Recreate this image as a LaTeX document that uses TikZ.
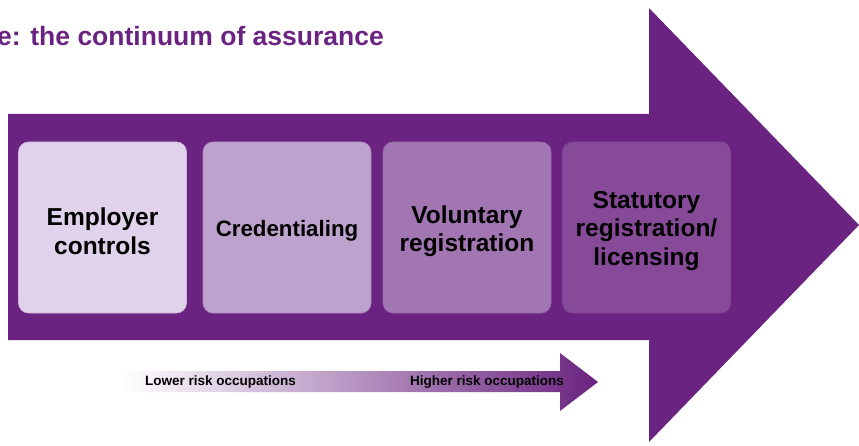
\documentclass[tikz,border=0pt]{standalone}
\usepackage{fontspec}
\setmainfont{Liberation Sans}
\definecolor{DarkPurple}{rgb}{0.416,0.137,0.502}
\definecolor{BoxA}{rgb}{0.875,0.824,0.918}
\definecolor{BoxB}{rgb}{0.741,0.635,0.804}
\definecolor{BoxC}{rgb}{0.631,0.463,0.698}
\definecolor{BoxD}{rgb}{0.529,0.290,0.600}

\begin{document}
\begin{tikzpicture}[x=1pt,y=-1pt,
  stage/.style={rounded corners=10pt,minimum width=168pt,minimum height=171pt,
    inner sep=0pt,line width=.6pt},
  stagetext/.style={inner sep=0pt,align=center,text=black,yshift=-3.5pt,
    font=\bfseries\fontsize{24.5}{28.5}\selectfont},
  risk/.style={inner sep=0pt,text=black,font=\bfseries\fontsize{13.5}{16}\selectfont}]
\def\boxy{227.5}
\useasboundingbox (0,0) rectangle (859,446);

% big arrow
\coordinate (tail top) at (8,114);
\coordinate (tail bot) at (8,340);
\coordinate (neck top) at (649,114);
\coordinate (neck bot) at (649,340);
\coordinate (head top) at (649,8);
\coordinate (head bot) at (649,442);
\coordinate (tip) at (859,225);
\fill[DarkPurple] (tail top) -- (neck top) -- (head top) -- (tip) -- (head bot)
  -- (neck bot) -- (tail bot) -- cycle;

\node[anchor=base east,inner sep=0pt,text=DarkPurple,
  font=\bfseries\fontsize{26.5}{30}\selectfont] (title) at (384,46)
  {e: the continuum of assurance};

\node[stage,fill=BoxA,draw=BoxA!85!DarkPurple,
  label={[stagetext]center:{Employer\\controls}}] (employer) at (102.5,\boxy) {};
\node[stage,fill=BoxB,draw=BoxB!85!DarkPurple,
  label={[stagetext,font=\bfseries\fontsize{22.3}{27}\selectfont]center:Credentialing}] (cred) at (287,\boxy) {};
\node[stage,fill=BoxC,draw=BoxC!85!DarkPurple,
  label={[stagetext]center:{Voluntary\\registration}}] (vol) at (467,\boxy) {};
\node[stage,fill=BoxD,draw=BoxD!85!DarkPurple,
  label={[stagetext]center:{Statutory\\registration/\\licensing}}] (stat) at (646.5,\boxy) {};

% small arrow, lower to higher risk
\coordinate (low top) at (122,371);
\coordinate (low bot) at (122,392);
\shade[left color=white,right color=DarkPurple] (low top) -- (560,371) -- (560,353)
  -- (598,382) -- (560,411) -- (560,392) -- (low bot) -- cycle;

\node[risk,anchor=base west] (lower) at (145,385.5) {Lower risk occupations};
\node[risk,anchor=base west] (higher) at (410,385.5) {Higher risk occupations};
\end{tikzpicture}
\end{document}
